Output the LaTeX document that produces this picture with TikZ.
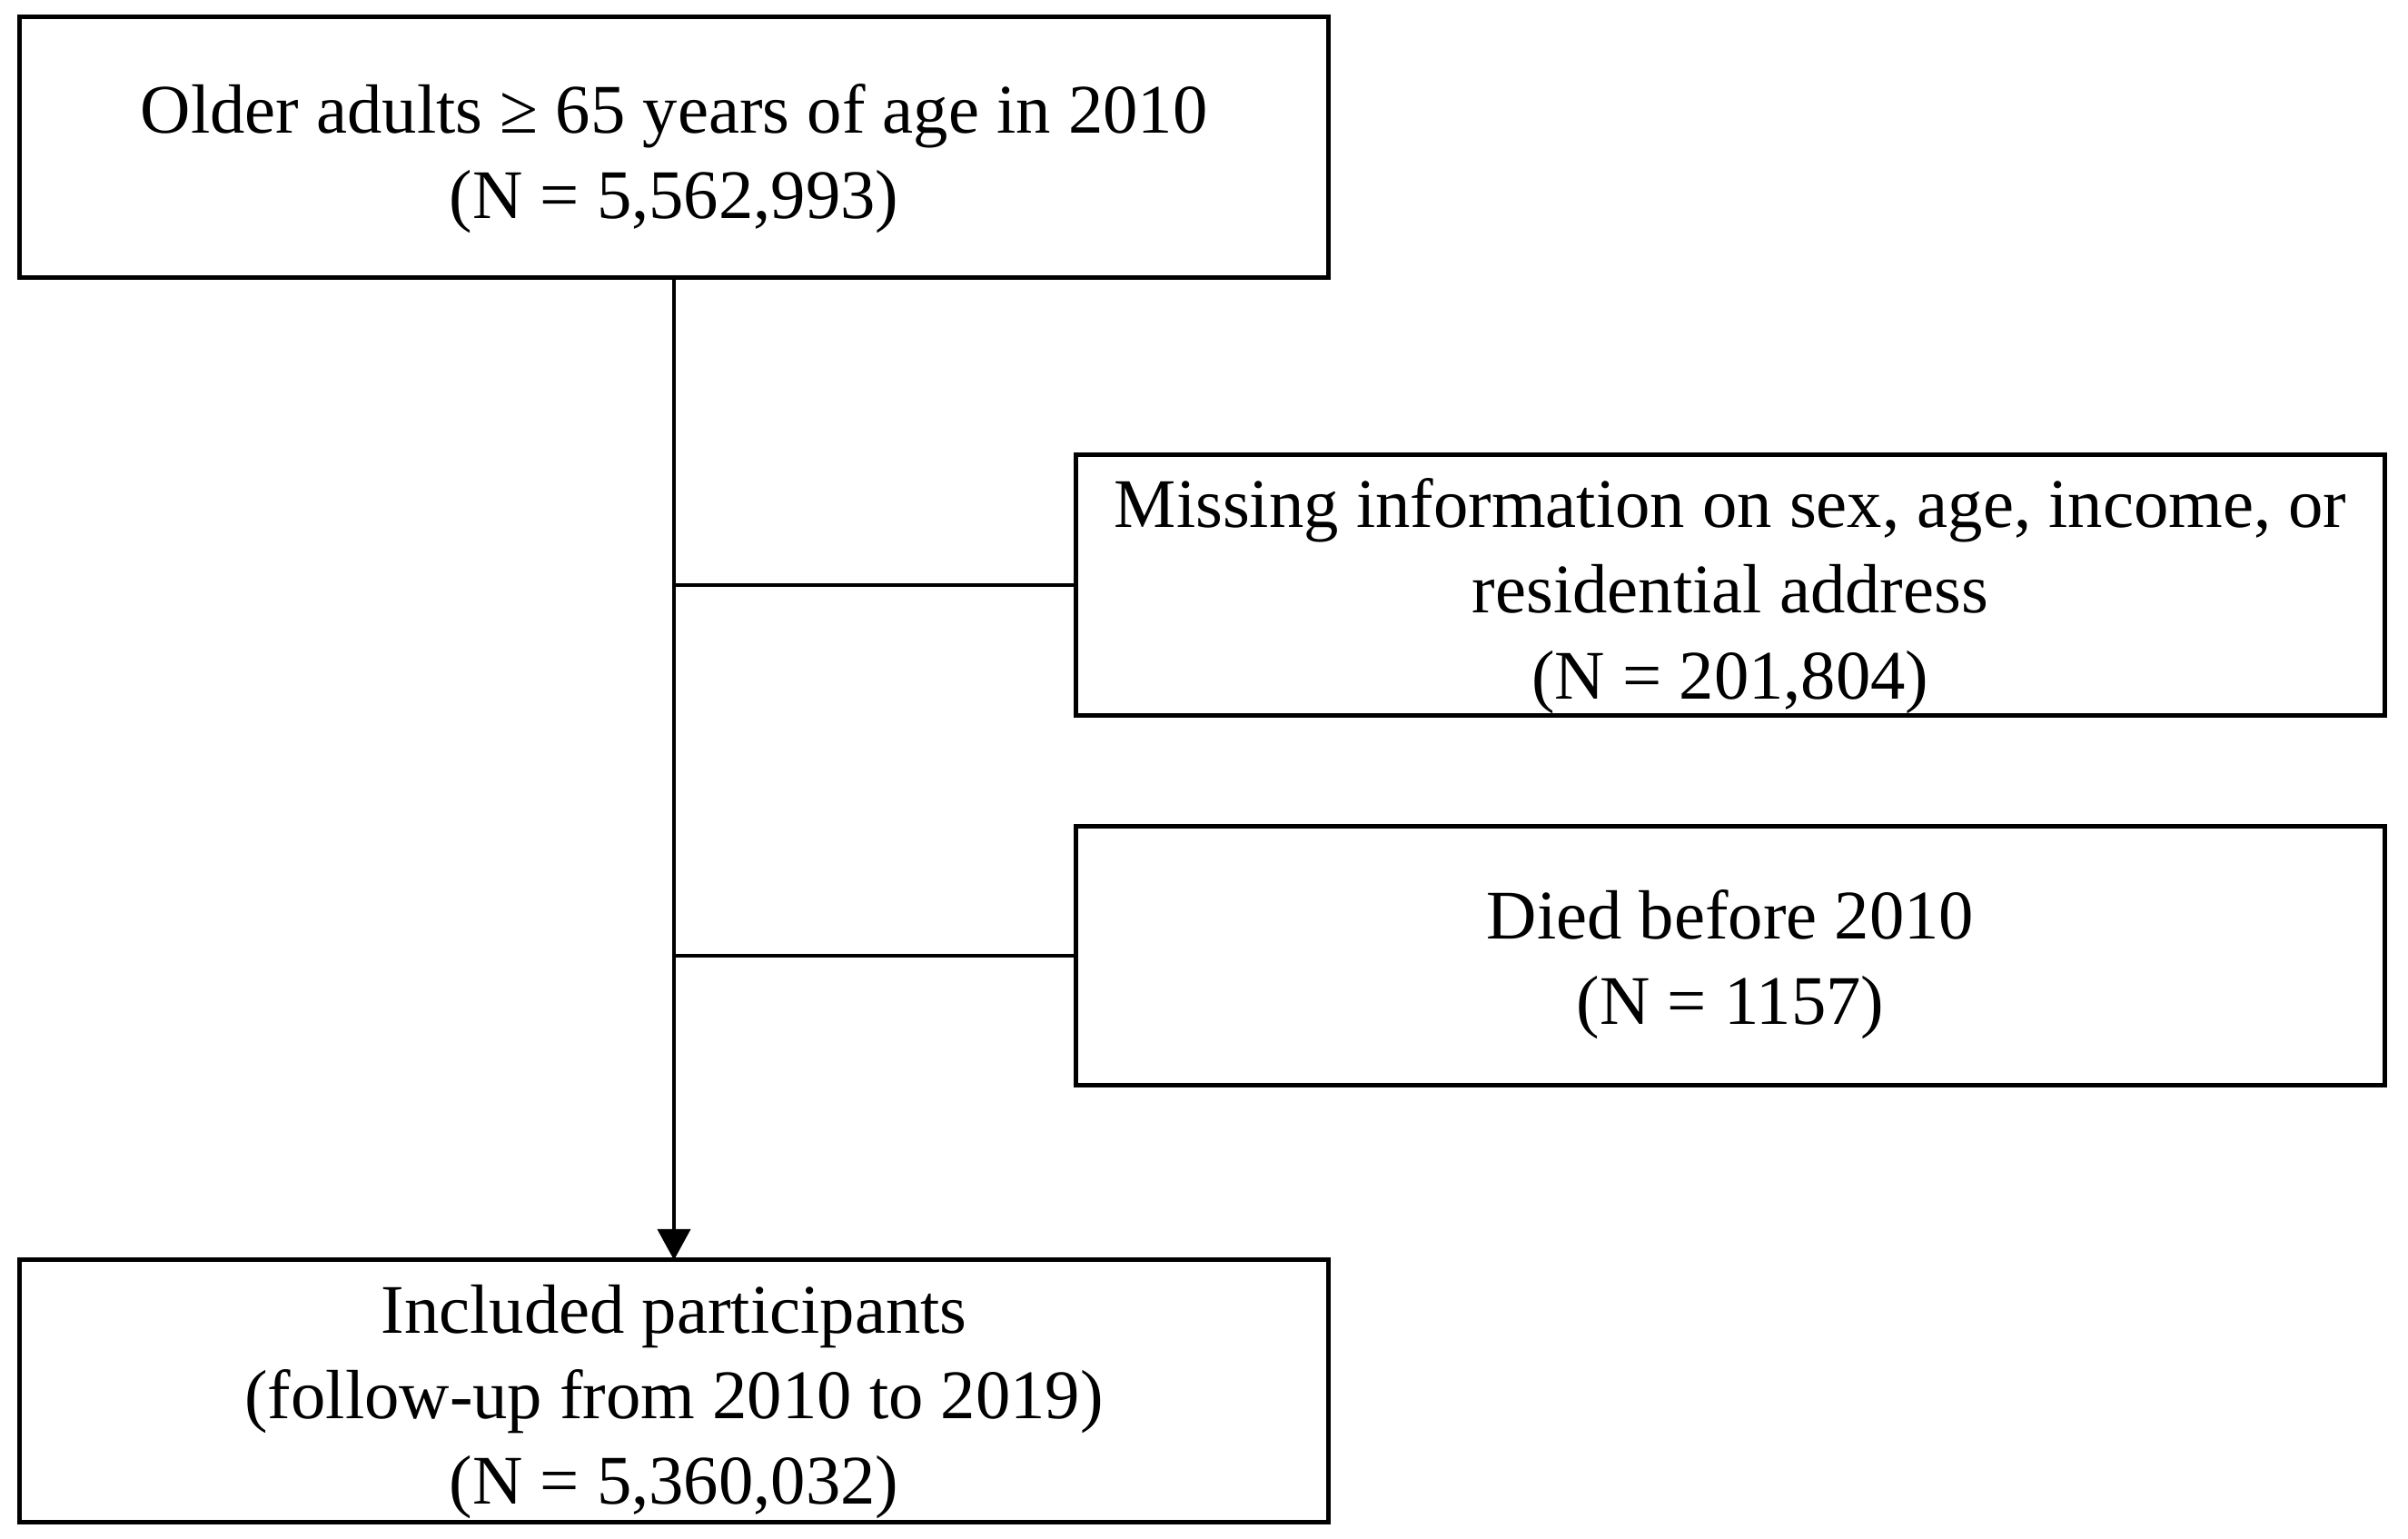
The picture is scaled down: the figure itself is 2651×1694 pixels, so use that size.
\documentclass[tikz,border=0pt]{standalone}
\usepackage{fontspec}
\setmainfont{Liberation Serif}
\usetikzlibrary{arrows.meta}
\begin{document}
\begin{tikzpicture}[x=0.01cm,y=-0.01cm,
  box/.style={draw=black, line width=1.45pt, inner sep=0pt, outer sep=0pt},
  boxtext/.style={inner sep=0pt, align=center, font=\fontsize{21.8}{26.8}\selectfont},
  conn/.style={draw=black, line width=1.15pt}]
\useasboundingbox (0,0) rectangle (2651,1694);
\node[box, minimum width=14.40cm, minimum height=2.86cm] (top) at (742,162) {};
\node[box, minimum width=14.41cm, minimum height=2.87cm] (miss) at (1905,644) {};
\node[box, minimum width=14.41cm, minimum height=2.84cm] (died) at (1905,1052) {};
\node[box, minimum width=14.40cm, minimum height=2.88cm] (incl) at (742,1531) {};
\node[boxtext] (toptext) at ([yshift=-0.13cm]top.center)
  {Older adults ≥ 65 years of age in 2010\\(N = 5,562,993)};
\node[boxtext] (misstext) at ([yshift=-0.12cm]miss.center)
  {Missing information on sex, age, income, or\\residential address\\(N = 201,804)};
\node[boxtext] (diedtext) at ([yshift=-0.10cm]died.center)
  {Died before 2010\\(N = 1157)};
\node[boxtext] (incltext) at ([yshift=-0.12cm]incl.center)
  {Included participants\\(follow-up from 2010 to 2019)\\(N = 5,360,032)};
\coordinate (j1) at (top.south |- miss.west);
\coordinate (j2) at (top.south |- died.west);
\draw[conn, -{Triangle[width=0.36cm,length=0.34cm]}] (top.south) -- (incl.north);
\draw[conn] (j1) -- (miss.west);
\draw[conn] (j2) -- (died.west);
\end{tikzpicture}
\end{document}
